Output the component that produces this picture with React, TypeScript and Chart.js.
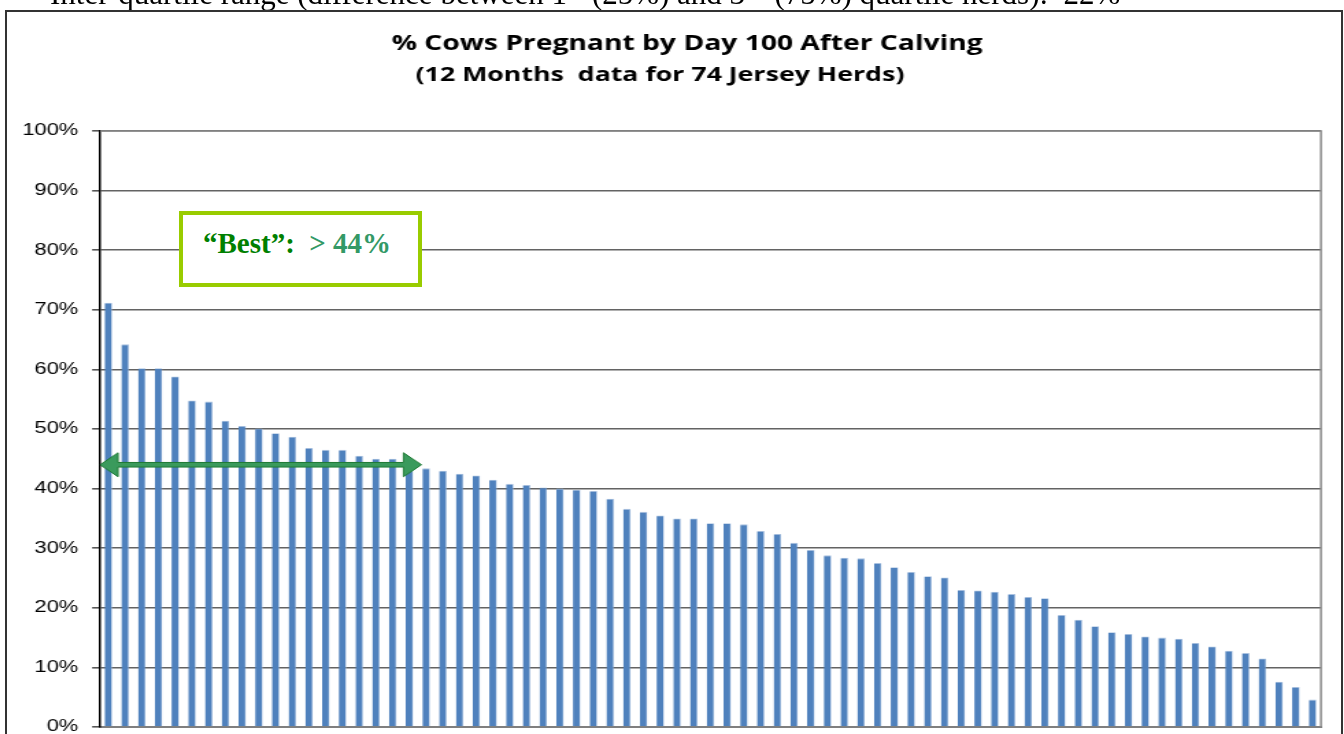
import React, { useEffect, useRef } from 'react';
import { Chart, registerables } from 'chart.js';

Chart.register(...registerables);

// ---------- data ----------
const pregnantPct: number[] = [
  71.2, 64.2, 60.2, 60.2, 58.8, 54.8, 54.6, 51.4, 50.5, 50.1,
  49.3, 48.7, 46.8, 46.5, 46.5, 45.5, 45.0, 45.0, 44.5, 43.4,
  43.0, 42.5, 42.2, 41.5, 40.8, 40.6, 40.2, 40.0, 39.8, 39.6,
  38.3, 36.6, 36.1, 35.5, 35.0, 35.0, 34.2, 34.2, 34.0, 32.9,
  32.4, 30.9, 29.7, 28.8, 28.4, 28.3, 27.5, 26.8, 26.0, 25.3,
  25.1, 23.0, 22.9, 22.7, 22.3, 21.8, 21.6, 18.8, 18.0, 16.9,
  15.9, 15.6, 15.2, 15.0, 14.8, 14.1, 13.5, 12.8, 12.4, 11.5,
  7.6, 6.7, 4.6,
];
const herdLabels: string[] = pregnantPct.map((_, i) => `Herd ${i + 1}`);
const yMin = 0;
const yMax = 100;
const yStep = 10;

const titleText = '% Cows Pregnant by Day 100 After Calving';
const subtitleText = '(12 Months  data for 74 Jersey Herds)';
const bestThreshold = 44; // arrow level (%)
const arrowEndIndex = 18.72; // arrow right tip, in category units

// ---------- layout (horizontal stretch like the source image) ----------
const S = 1.37;
const W = 974;
const H = 740;

const decorPlugin = {
  id: 'decor',
  afterDraw(chart: any) {
    const { ctx, chartArea, scales } = chart;
    ctx.save();
    // plot area border (top + right)
    ctx.strokeStyle = '#8a8a8a';
    ctx.lineWidth = 1.5;
    ctx.beginPath();
    ctx.moveTo(chartArea.left, chartArea.top);
    ctx.lineTo(chartArea.right, chartArea.top);
    ctx.lineTo(chartArea.right, chartArea.bottom);
    ctx.stroke();

    // titles
    ctx.fillStyle = '#000';
    ctx.textAlign = 'center';
    ctx.textBaseline = 'middle';
    ctx.font = 'bold 20.6px "Open Sans"';
    ctx.fillText(titleText, 496.4, 32);
    ctx.font = 'bold 19.5px "Open Sans"';
    ctx.fillText(subtitleText, 476.6, 63);

    // double arrow
    const y = scales.y.getPixelForValue(bestThreshold);
    const x0 = chartArea.left;
    const x1 = scales.x.getPixelForValue(arrowEndIndex);
    const hl = 18 / S;
    const hh = 12;
    const sh = 2.3;
    ctx.beginPath();
    ctx.moveTo(x0, y);
    ctx.lineTo(x0 + hl, y - hh);
    ctx.lineTo(x0 + hl, y - sh);
    ctx.lineTo(x1 - hl, y - sh);
    ctx.lineTo(x1 - hl, y - hh);
    ctx.lineTo(x1, y);
    ctx.lineTo(x1 - hl, y + hh);
    ctx.lineTo(x1 - hl, y + sh);
    ctx.lineTo(x0 + hl, y + sh);
    ctx.lineTo(x0 + hl, y + hh);
    ctx.closePath();
    ctx.fillStyle = '#3a9a5c';
    ctx.fill();
    ctx.strokeStyle = '#1e7a34';
    ctx.lineWidth = 1;
    ctx.stroke();
    ctx.restore();
  },
};

export default function App() {
  const canvasRef = useRef<HTMLCanvasElement | null>(null);

  useEffect(() => {
    const canvas = canvasRef.current;
    if (!canvas) return;
    const chart = new Chart(canvas, {
      type: 'bar',
      data: {
        labels: herdLabels,
        datasets: [
          {
            data: pregnantPct,
            backgroundColor: '#4f81bd',
            borderColor: '#a9c1e0',
            borderWidth: { top: 0.8, right: 0.6, left: 0, bottom: 0 },
            barPercentage: 0.45,
            categoryPercentage: 1,
          },
        ],
      },
      options: {
        responsive: false,
        animation: false,
        devicePixelRatio: 1,
        layout: { padding: { left: 0, right: 14.9, top: 119, bottom: 25 } },
        plugins: {
          legend: { display: false },
          tooltip: { enabled: false },
          title: { display: false },
        },
        scales: {
          x: {
            ticks: { display: false },
            grid: { display: false, drawTicks: false },
            border: { display: true, color: '#7f7f7f', width: 2 },
            afterFit(scale: any) {
              scale.height = 0;
            },
          },
          y: {
            min: yMin,
            max: yMax,
            ticks: {
              stepSize: yStep,
              color: '#000',
              padding: 10,
              font: { family: '"Liberation Sans", Arial, sans-serif', size: 16 },
              callback: (v: any) => `${v}%`,
            },
            grid: {
              color: '#636363',
              lineWidth: 1.6,
              drawTicks: true,
              tickLength: 5.8,
              tickColor: '#555',
            },
            border: { display: true, color: '#000', width: 1.5 },
            afterFit(scale: any) {
              scale.width = 67.9;
            },
          },
        },
      },
      plugins: [decorPlugin],
    });
    return () => chart.destroy();
  }, []);

  return (
    <div>
      <div
        style={{
          position: 'fixed',
          left: 50,
          top: -22,
          fontFamily: '"Liberation Serif", "Times New Roman", serif',
          fontSize: 31,
          lineHeight: '31px',
          whiteSpace: 'nowrap',
          color: '#000',
        }}
      >
        Inter-quartile range (difference between 1<sup style={{ lineHeight: 0 }}>st</sup> (25%) and 3
        <sup style={{ lineHeight: 0 }}>rd</sup> (75%) quartile herds):&nbsp; 22%
      </div>
      <div
        style={{
          position: 'fixed',
          left: 5,
          top: 10,
          width: 1338,
          height: 760,
          border: '2px solid #333',
          boxSizing: 'border-box',
          overflow: 'hidden',
          background: '#fff',
        }}
      >
        <div style={{ transform: `scaleX(${S})`, transformOrigin: '0 0', width: W, height: H }}>
          <canvas ref={canvasRef} width={W} height={H} />
        </div>
      </div>
      <div
        style={{
          position: 'fixed',
          left: 179,
          top: 211,
          width: 243,
          height: 76,
          border: '4px solid #99cc00',
          boxSizing: 'border-box',
          background: '#fff',
        }}
      >
        <span
          style={{
            position: 'absolute',
            left: 20,
            top: 14,
            fontFamily: '"Liberation Serif", "Times New Roman", serif',
            fontWeight: 'bold',
            fontSize: 29,
            lineHeight: '29px',
            whiteSpace: 'pre',
          }}
        >
          <span style={{ color: '#008000' }}>“Best”:</span>
          <span style={{ color: '#339966' }}>{'  > 44%'}</span>
        </span>
      </div>
    </div>
  );
}
